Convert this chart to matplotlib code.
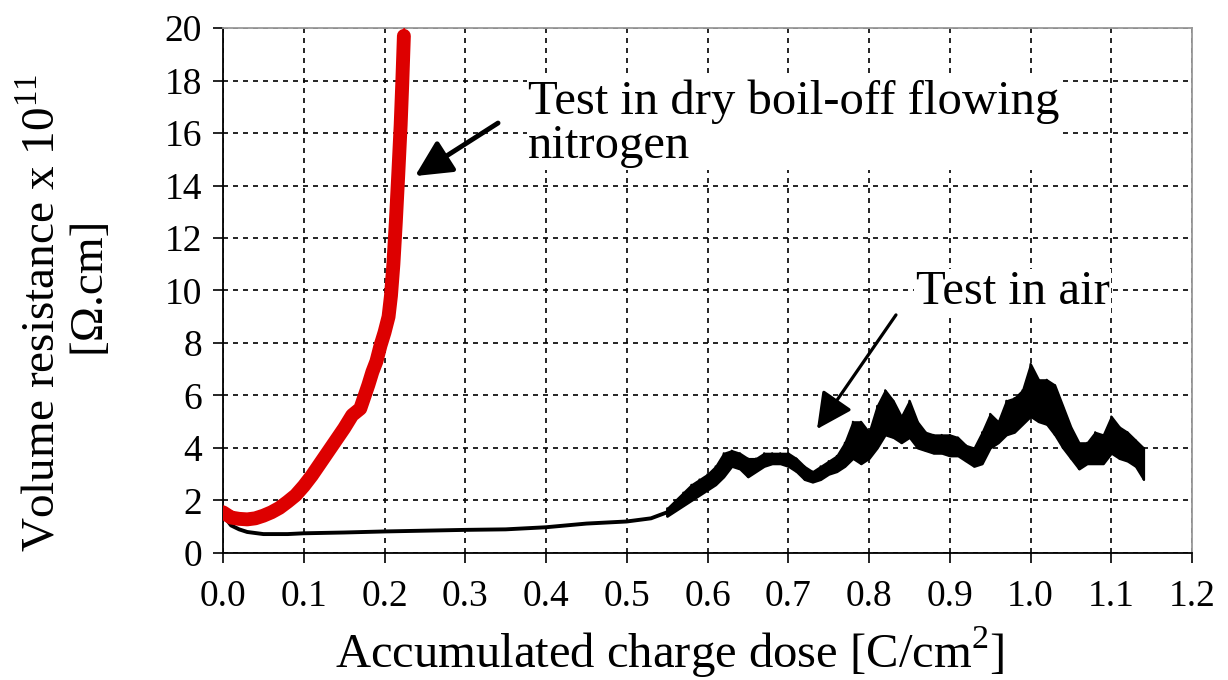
import numpy as np
import matplotlib
matplotlib.use("Agg")
from matplotlib import pyplot as plt

# ---- data ----
# test in dry boil-off flowing nitrogen (red)
n2_x = [0.0, 0.005, 0.01, 0.02, 0.03, 0.04, 0.05, 0.06, 0.07, 0.08, 0.09, 0.10,
        0.11, 0.12, 0.13, 0.14, 0.15, 0.16, 0.17, 0.18, 0.185, 0.19, 0.195, 0.20,
        0.205, 0.208, 0.211, 0.214, 0.217, 0.220, 0.222, 0.224]
n2_y = [1.55, 1.45, 1.35, 1.30, 1.28, 1.32, 1.42, 1.55, 1.72, 1.95, 2.20, 2.55,
        2.95, 3.40, 3.85, 4.30, 4.75, 5.25, 5.50, 6.40, 6.90, 7.30, 7.90, 8.40,
        9.00, 9.80, 11.0, 12.6, 14.4, 16.3, 17.9, 19.7]
n2_spike_x = [0.2242, 0.2245]
n2_spike_y = [19.3, 20.3]

# test in air (black), smooth start
air_x = [0.0, 0.005, 0.01, 0.02, 0.03, 0.05, 0.08, 0.10, 0.15, 0.20, 0.25,
         0.30, 0.35, 0.40, 0.45, 0.50, 0.53, 0.55]
air_y = [1.45, 1.25, 1.05, 0.90, 0.80, 0.72, 0.72, 0.75, 0.78, 0.82, 0.85,
         0.88, 0.90, 0.98, 1.12, 1.20, 1.32, 1.55]
# test in air, noisy part: lower / upper edge of the band
band_x = [0.55, 0.56, 0.57, 0.58, 0.59, 0.60, 0.61, 0.62, 0.63, 0.64, 0.65,
          0.66, 0.67, 0.68, 0.69, 0.70, 0.71, 0.72, 0.73, 0.74, 0.75, 0.76,
          0.77, 0.78, 0.79, 0.80, 0.81, 0.82, 0.83, 0.84, 0.85, 0.86, 0.87,
          0.88, 0.89, 0.90, 0.91, 0.92, 0.93, 0.94, 0.95, 0.96, 0.97, 0.98,
          0.99, 1.00, 1.01, 1.02, 1.03, 1.04, 1.05, 1.06, 1.07, 1.08, 1.09,
          1.10, 1.11, 1.12, 1.13, 1.14]
band_lo = [1.40, 1.60, 1.80, 2.00, 2.20, 2.40, 2.60, 2.90, 3.30, 3.20, 2.90,
           3.10, 3.30, 3.40, 3.40, 3.30, 3.10, 2.80, 2.70, 2.80, 3.00, 3.10,
           3.30, 3.60, 3.40, 3.60, 4.00, 4.50, 4.40, 4.20, 4.40, 4.00, 3.90,
           3.80, 3.80, 3.70, 3.70, 3.50, 3.30, 3.40, 4.00, 4.20, 4.50, 4.60,
           4.90, 5.20, 5.00, 4.90, 4.50, 4.00, 3.60, 3.20, 3.40, 3.40, 3.40,
           3.80, 3.60, 3.50, 3.30, 2.80]
band_hi = [1.70, 2.00, 2.30, 2.60, 2.80, 3.00, 3.30, 3.80, 3.90, 3.80, 3.60,
           3.60, 3.80, 3.80, 3.80, 3.80, 3.60, 3.30, 3.10, 3.30, 3.50, 3.70,
           4.20, 5.00, 5.00, 4.60, 5.60, 6.20, 5.80, 5.20, 5.80, 5.00, 4.60,
           4.50, 4.50, 4.50, 4.40, 4.10, 4.00, 4.60, 5.30, 5.00, 5.80, 5.90,
           6.20, 7.20, 6.60, 6.60, 6.40, 5.60, 4.80, 4.20, 4.20, 4.60, 4.50,
           5.20, 4.80, 4.60, 4.30, 4.00]

x_ticks = [0.0, 0.1, 0.2, 0.3, 0.4, 0.5, 0.6, 0.7, 0.8, 0.9, 1.0, 1.1, 1.2]
y_ticks = [0, 2, 4, 6, 8, 10, 12, 14, 16, 18, 20]

# ---- estilo ----
plt.rcParams['font.family'] = ['Liberation Serif', 'DejaVu Serif']
plt.rcParams['mathtext.fontset'] = 'custom'
plt.rcParams['mathtext.rm'] = 'Liberation Serif'

fig = plt.figure(figsize=(12.28, 6.8), dpi=100)
ax = fig.add_axes([0.1816, 0.1868, 0.7891, 0.7720])

# grid
ax.set_axisbelow(True)
ax.grid(True, color='black', linestyle=(0, (3, 3)), linewidth=1.2)

# curva en aire
ax.plot(air_x, air_y, color='black', linewidth=2.8, zorder=3)
ax.fill_between(band_x, band_lo, band_hi, color='black', linewidth=1.5, zorder=3)
# zigzag entre borde inferior y superior (textura del ruido)
zz_x = np.repeat(band_x, 2)
zz_y = np.ravel(np.column_stack([band_lo, band_hi]))
ax.plot(zz_x, zz_y, color='black', linewidth=1.5, zorder=3)

# curva en nitrogeno
ax.plot(n2_x, n2_y, color='#dd0000', linewidth=10, solid_capstyle='round', zorder=4)
ax.plot(n2_spike_x, n2_spike_y, color='#dd0000', linewidth=1.2, zorder=4)

ax.set_xlim(0, 1.2)
ax.set_ylim(0, 20)
ax.set_xticks(x_ticks)
ax.set_xticklabels(["%.1f" % v for v in x_ticks])
ax.set_yticks(y_ticks)
ax.tick_params(axis='both', direction='out', length=7, width=1.2, labelsize=27)
ax.tick_params(axis='x', pad=12)
ax.tick_params(axis='y', pad=8)

for s in ['left', 'bottom']:
    ax.spines[s].set_color('black')
    ax.spines[s].set_linewidth(1.3)
for s in ['top', 'right']:
    ax.spines[s].set_color('#999999')
    ax.spines[s].set_linewidth(1.3)

# anotaciones
ax.annotate("", xy=(0.2378, 14.36), xytext=(0.3406, 16.38),
            arrowprops=dict(arrowstyle='-|>,head_length=1.1,head_width=0.55',
                            mutation_scale=20, lw=3.5, color='black',
                            shrinkA=0, shrinkB=0), zorder=5)
ax.text(0.378, 16.35, "Test in dry boil-off flowing\nnitrogen", fontsize=35,
        ha='left', va='center', linespacing=1.0, zorder=5,
        bbox=dict(facecolor='white', edgecolor='none', pad=1))

ax.annotate("", xy=(0.7356, 4.72), xytext=(0.8334, 9.07),
            arrowprops=dict(arrowstyle='-|>,head_length=1.1,head_width=0.55',
                            mutation_scale=20, lw=2.3, color='black',
                            shrinkA=0, shrinkB=0), zorder=5)
ax.text(0.858, 9.94, "Test in air", fontsize=35, ha='left', va='center', zorder=5,
        bbox=dict(facecolor='white', edgecolor='none', pad=1))

# etiquetas de ejes
fig.text(670 / 1228, (680 - 652) / 680, "Accumulated charge dose [C/cm$^2$]",
         fontsize=35, ha='center', va='center')
fig.text(42 / 1228, (680 - 313) / 680, "Volume resistance x 10$^{11}$",
         fontsize=34, ha='center', va='center', rotation=90)
fig.text(88 / 1228, (680 - 285) / 680, "[\u03a9.cm]",
         fontsize=34, ha='center', va='center', rotation=90)

fig.savefig("out.png", dpi=100)
